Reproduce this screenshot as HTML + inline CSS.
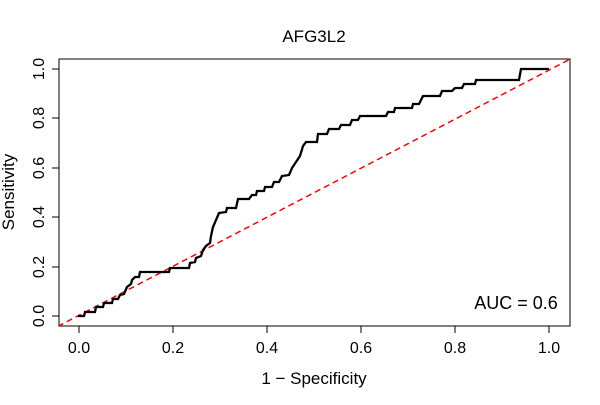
<!DOCTYPE html>
<html><head><style>body{margin:0;background:#fff}</style></head><body>
<svg width="600" height="400" xmlns="http://www.w3.org/2000/svg" font-family="Liberation Sans, sans-serif">
<defs><clipPath id="c"><rect x="59" y="59" width="511" height="267"/></clipPath></defs>
<rect x="59" y="59" width="511" height="267" fill="none" stroke="#000" stroke-width="1"/>
<g stroke="#000" stroke-width="1">
<line x1="79" y1="326" x2="549" y2="326"/>
<line x1="79" y1="326" x2="79" y2="333"/><line x1="173" y1="326" x2="173" y2="333"/><line x1="267" y1="326" x2="267" y2="333"/><line x1="361" y1="326" x2="361" y2="333"/><line x1="455" y1="326" x2="455" y2="333"/><line x1="549" y1="326" x2="549" y2="333"/>
<line x1="59" y1="316" x2="59" y2="69"/>
<line x1="52" y1="316" x2="59" y2="316"/><line x1="52" y1="267" x2="59" y2="267"/><line x1="52" y1="217" x2="59" y2="217"/><line x1="52" y1="168" x2="59" y2="168"/><line x1="52" y1="118" x2="59" y2="118"/><line x1="52" y1="69" x2="59" y2="69"/>
</g>
<g font-size="16" text-anchor="middle">
<text x="79" y="353">0.0</text><text x="173" y="353">0.2</text><text x="267" y="353">0.4</text><text x="361" y="353">0.6</text><text x="455" y="353">0.8</text><text x="549" y="353">1.0</text>
</g>
<g font-size="17" text-anchor="middle">
<text x="314" y="384">1 − Specificity</text>
<text x="314" y="42">AFG3L2</text>
</g>
<g font-size="16" text-anchor="middle">
<text transform="translate(44,316) rotate(-90)">0.0</text>
<text transform="translate(44,267) rotate(-90)">0.2</text>
<text transform="translate(44,217) rotate(-90)">0.4</text>
<text transform="translate(44,168) rotate(-90)">0.6</text>
<text transform="translate(44,118) rotate(-90)">0.8</text>
<text transform="translate(44,69) rotate(-90)">1.0</text>
</g>
<text transform="translate(14,192) rotate(-90)" font-size="17" text-anchor="middle">Sensitivity</text>
<g clip-path="url(#c)">
<line x1="49" y1="331" x2="580" y2="54" stroke="#f00" stroke-width="1.5" stroke-dasharray="6,4"/>
<polyline fill="none" stroke="#000" stroke-width="2.3" points="78,316 84,316 85,312 95,312 96,307 103,307 104,303 112,303 113,299 118,299 120,295 124,294 127,287 131,284 132,280 135,277 139,277 140,272 169,272 170,268 189,268 190,263 195,262 196,258 201,256 203,250 206,246 210,243 211,236 213,227 219,213 226,212 227,208 236,208 238,199 249,199 252,195 256,195 257,191 264,191 265,187 272,187 274,182 279,182 282,176 289,175 292,168 300,156 303,146 306,142 317,142 318,134 327,134 329,129 339,129 341,125 350,125 352,120 358,120 360,116 386,116 388,112 394,112 395,108 412,108 413,104 419,104 423,96 440,96 442,91 452,91 455,88 462,88 464,84 475,84 476,80 519,80 521,69 549,69"/>
</g>
<text x="516" y="309" font-size="18" text-anchor="middle">AUC = 0.6</text>
</svg>
</body></html>
